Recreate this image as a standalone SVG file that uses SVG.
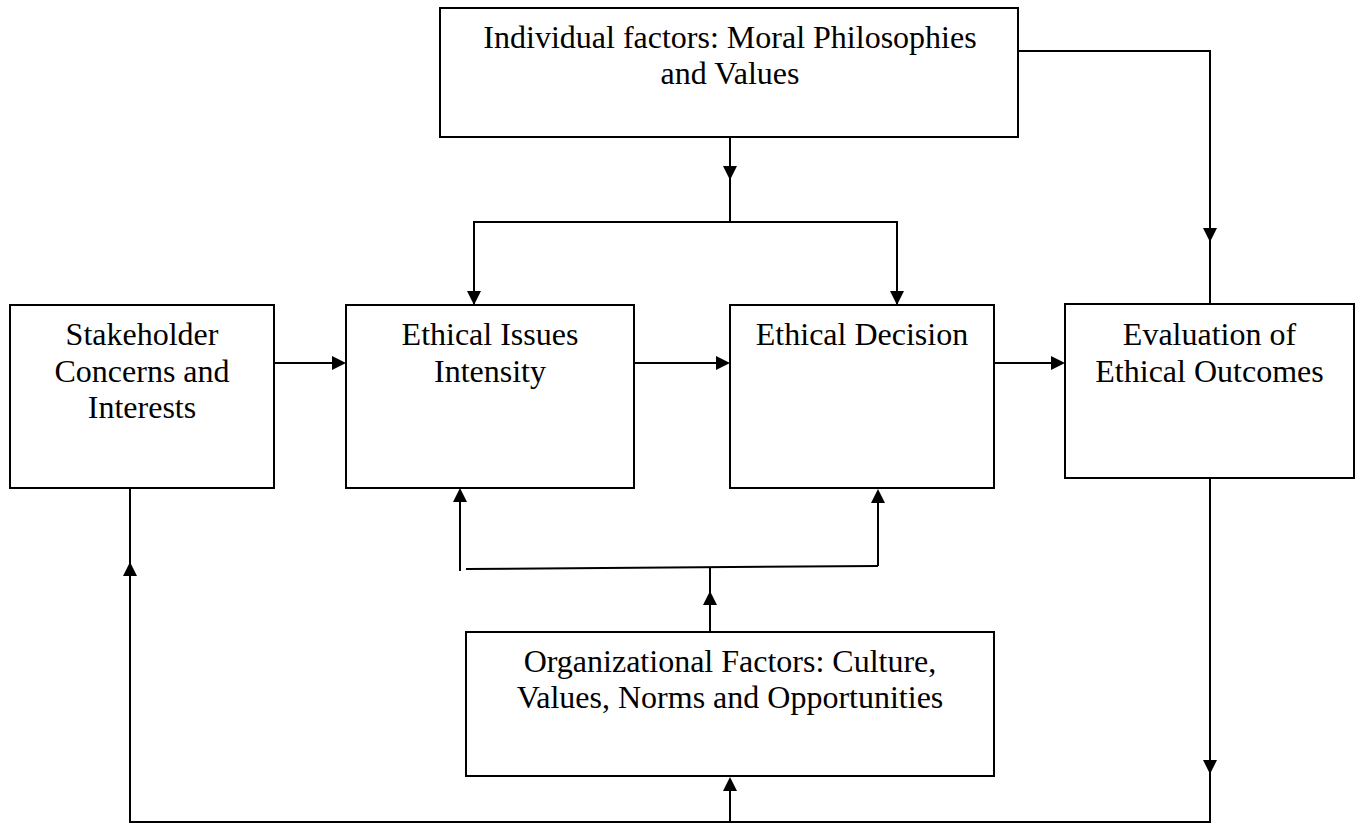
<svg xmlns="http://www.w3.org/2000/svg" width="1356" height="824" viewBox="0 0 1356 824">
<style>
.box{fill:#fff;stroke:#000;stroke-width:2}
.ln{fill:none;stroke:#000;stroke-width:2}
.ah{fill:#000}
text{font-family:"Liberation Serif","Times New Roman",serif;font-size:32px;fill:#000;text-anchor:middle}
</style>
<rect width="1356" height="824" fill="#fff"/>
<g id="connectors">
<polyline class="ln" points="730,137 730,222"/>
<polygon class="ah" points="723,166 737,166 730,180"/>
<polyline class="ln" points="474,305 474,222 897,222 897,305"/>
<polygon class="ah" points="467,291 481,291 474,305"/>
<polygon class="ah" points="890,291 904,291 897,305"/>
<polyline class="ln" points="1018,51 1210,51 1210,304"/>
<polygon class="ah" points="1203,228 1217,228 1210,242"/>
<line class="ln" x1="274" y1="363" x2="334" y2="363"/>
<polygon class="ah" points="332,356 346,363 332,370"/>
<line class="ln" x1="634" y1="363" x2="718" y2="363"/>
<polygon class="ah" points="716,356 730,363 716,370"/>
<line class="ln" x1="994" y1="363" x2="1053" y2="363"/>
<polygon class="ah" points="1051,356 1065,363 1051,370"/>
<polyline class="ln" points="1210,478 1210,822 130,822 130,488"/>
<polygon class="ah" points="1203,760 1217,760 1210,774"/>
<polygon class="ah" points="123,576 137,576 130,562"/>
<line class="ln" x1="730" y1="822" x2="730" y2="790"/>
<polygon class="ah" points="723,791 737,791 730,777"/>
<line class="ln" x1="710" y1="632" x2="710" y2="568"/>
<polygon class="ah" points="703,605 717,605 710,591"/>
<line class="ln" x1="466" y1="569" x2="878" y2="566"/>
<polyline class="ln" points="878,566 878,500"/>
<polygon class="ah" points="871,503 885,503 878,489"/>
<polyline class="ln" points="460,571 460,500"/>
<polygon class="ah" points="453,502 467,502 460,488"/>
</g>
<g id="individual">
<rect class="box" x="440" y="8" width="578" height="129"/>
<text x="730" y="48">Individual factors: Moral Philosophies</text>
<text x="730" y="84">and Values</text>
</g>
<g id="stakeholder">
<rect class="box" x="10" y="305" width="264" height="183"/>
<text x="142" y="345">Stakeholder</text>
<text x="142" y="381.5">Concerns and</text>
<text x="142" y="418">Interests</text>
</g>
<g id="issues">
<rect class="box" x="346" y="305" width="288" height="183"/>
<text x="490" y="345">Ethical Issues</text>
<text x="490" y="381.5">Intensity</text>
</g>
<g id="decision">
<rect class="box" x="730" y="305" width="264" height="183"/>
<text x="862" y="345">Ethical Decision</text>
</g>
<g id="evaluation">
<rect class="box" x="1065" y="304" width="289" height="174"/>
<text x="1209.5" y="345">Evaluation of</text>
<text x="1209.5" y="382">Ethical Outcomes</text>
</g>
<g id="organizational">
<rect class="box" x="466" y="632" width="528" height="144"/>
<text x="730" y="672">Organizational Factors: Culture,</text>
<text x="730" y="708">Values, Norms and Opportunities</text>
</g>
</svg>
